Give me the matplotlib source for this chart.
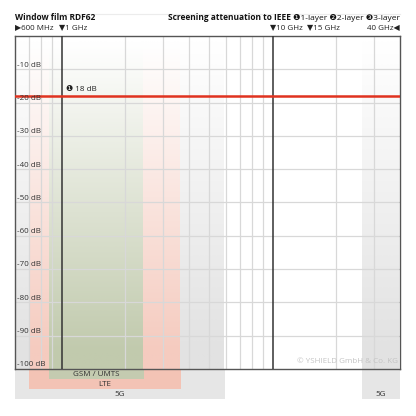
import numpy as np
import matplotlib
matplotlib.use("Agg")
import matplotlib.pyplot as plt
from matplotlib.patches import Rectangle
from matplotlib.colors import to_rgb

# ---- data ----
title_left = "Window film RDF62"
title_right_bold = "Screening attenuation to IEEE"
title_right_norm = "\u27761-layer \u27772-layer \u27783-layer"
freq_min, freq_max = 0.6, 40.0           # GHz
db_min, db_max = -100, 0
db_ticks = [-10, -20, -30, -40, -50, -60, -70, -80, -90, -100]
db_tick_labels = [f"{v} dB" for v in db_ticks]
minor_freqs = [0.7, 0.8, 0.9, 2, 3, 4, 5, 6, 7, 8, 9, 20, 30]
major_freqs = [1, 10]
freq_marks = [0.6, 1, 10, 15, 40]
freq_mark_labels = ["\u25b6600 MHz", "\u25bc1 GHz", "\u25bc10 GHz", "\u25bc15 GHz", "40 GHz\u25c0"]
band_names = ["5G", "5G", "LTE", "GSM / UMTS"]
band_start = [0.6, 26.5, 0.7, 0.87]
band_end = [5.9, 40.0, 3.65, 2.45]
band_colors = ["#e6e6e6", "#e6e6e6", "#f3c3b5", "#c4cbb0"]
band_fill_colors = ["#e2e2e2", "#e2e2e2", "#f5cbbf", "#c1caad"]
band_depth = [3, 3, 2, 1]                # label rows below plot
attenuation_layers = [18]                # dB, 1-layer
attenuation_labels = ["\u2776 18 dB"]
copyright_txt = "\u00a9 YSHIELD GmbH & Co. KG"

FAM = ["Open Sans", "DejaVu Sans"]
plt.rcParams["font.family"] = FAM

W = H = 416
fig = plt.figure(figsize=(W / 100, H / 100), dpi=100)
L, R, T, B = 15, 400, 36, 369
ax = fig.add_axes([L / W, 1 - B / H, (R - L) / W, (B - T) / H])
ax.set_xscale("log")
ax.set_xlim(freq_min, freq_max)
ax.set_ylim(db_min, db_max)
ax.set_xticks([]); ax.set_yticks([])
ax.xaxis.set_minor_locator(matplotlib.ticker.NullLocator())
for s in ax.spines.values():
    s.set_color("#555555"); s.set_linewidth(1.0)
ax.patch.set_facecolor("white")

# gradient bands inside plot (opaque, faded towards white at the top)
ny = 200
yy = np.linspace(db_min, db_max, ny)
alpha = np.clip((-yy - 2) / 93.0, 0, 1)
for x0, x1, c in zip(band_start, band_end, band_fill_colors):
    rgb = np.array(to_rgb(c))
    img = np.ones((ny, 2, 3))
    img[:, :, :] = (1 - alpha[:, None, None]) + alpha[:, None, None] * rgb
    ax.imshow(img, extent=[x0, x1, db_min, db_max], origin="lower",
              aspect="auto", interpolation="bilinear", zorder=1)
ax.set_xlim(freq_min, freq_max)
ax.set_ylim(db_min, db_max)

# bands below plot
row = 10.0 / (B - T)
for x0, x1, c, d in zip(band_start, band_end, band_colors, band_depth):
    ax.add_patch(Rectangle((x0, -row * d), x1 - x0, row * d,
                           transform=ax.get_xaxis_transform(), clip_on=False,
                           facecolor=c, edgecolor="none", zorder=0.5 + (3 - d)))
for name, x0, x1, d in zip(band_names, band_start, band_end, band_depth):
    xc = np.sqrt(x0 * x1)
    ax.text(xc, -row * (d - 0.5), name, transform=ax.get_xaxis_transform(),
            ha="center", va="center", fontsize=5.8, color="#333333", zorder=6)

# grid
for f in minor_freqs:
    ax.axvline(f, color="#d8d8d8", lw=0.9, zorder=2)
for v in db_ticks[:-1]:
    ax.axhline(v, color="#d8d8d8", lw=0.9, zorder=2)
for f in major_freqs:
    ax.axvline(f, color="#333333", lw=1.1, zorder=3)

# attenuation line
for v, lab in zip(attenuation_layers, attenuation_labels):
    ax.axhline(-v, color="#e0321f", lw=1.8, zorder=4)
    ax.annotate(lab, xy=(1.0, -v), xytext=(3, 2), textcoords="offset points",
                ha="left", va="bottom", fontsize=5.8, color="#222222", zorder=5)

# y labels
for v, lab in zip(db_ticks, db_tick_labels):
    ax.annotate(lab, xy=(0, v), xycoords=("axes fraction", "data"),
                xytext=(1.2, 0.5), textcoords="offset points",
                ha="left", va="bottom", fontsize=5.8, color="#333333", zorder=5)

ax.text(0.995, 0.012, copyright_txt, transform=ax.transAxes, ha="right", va="bottom",
        fontsize=5.8, color="#c4c4c4", zorder=5)

# header
fig.add_artist(plt.Line2D([L / W, R / W], [1 - 14 / H, 1 - 14 / H], color="#ececec", lw=0.8))
fig.text(L / W, 1 - 18 / H, title_left, fontsize=6.0, fontweight="bold",
         ha="left", va="center", color="#111111")
t_norm = fig.text(R / W, 1 - 18 / H, title_right_norm, fontsize=6.0,
                  ha="right", va="center", color="#111111")
fig.canvas.draw()
bb = t_norm.get_window_extent()
fig.text((bb.x0 - 2) / W, 1 - 18 / H, title_right_bold, fontsize=6.0, fontweight="bold",
         ha="right", va="center", color="#111111")

for f, lab in zip(freq_marks, freq_mark_labels):
    xpix = L + (np.log10(f) - np.log10(freq_min)) / (np.log10(freq_max) - np.log10(freq_min)) * (R - L)
    if f == freq_min:
        fig.text(xpix / W, 1 - 29 / H, lab, fontsize=5.8, ha="left", va="center", color="#222222")
    elif f == freq_max:
        fig.text(xpix / W, 1 - 29 / H, lab, fontsize=5.8, ha="right", va="center", color="#222222")
    else:
        fig.text((xpix - 3) / W, 1 - 29 / H, lab, fontsize=5.8, ha="left", va="center", color="#222222")

fig.savefig("out.png", dpi=100, facecolor="white")
